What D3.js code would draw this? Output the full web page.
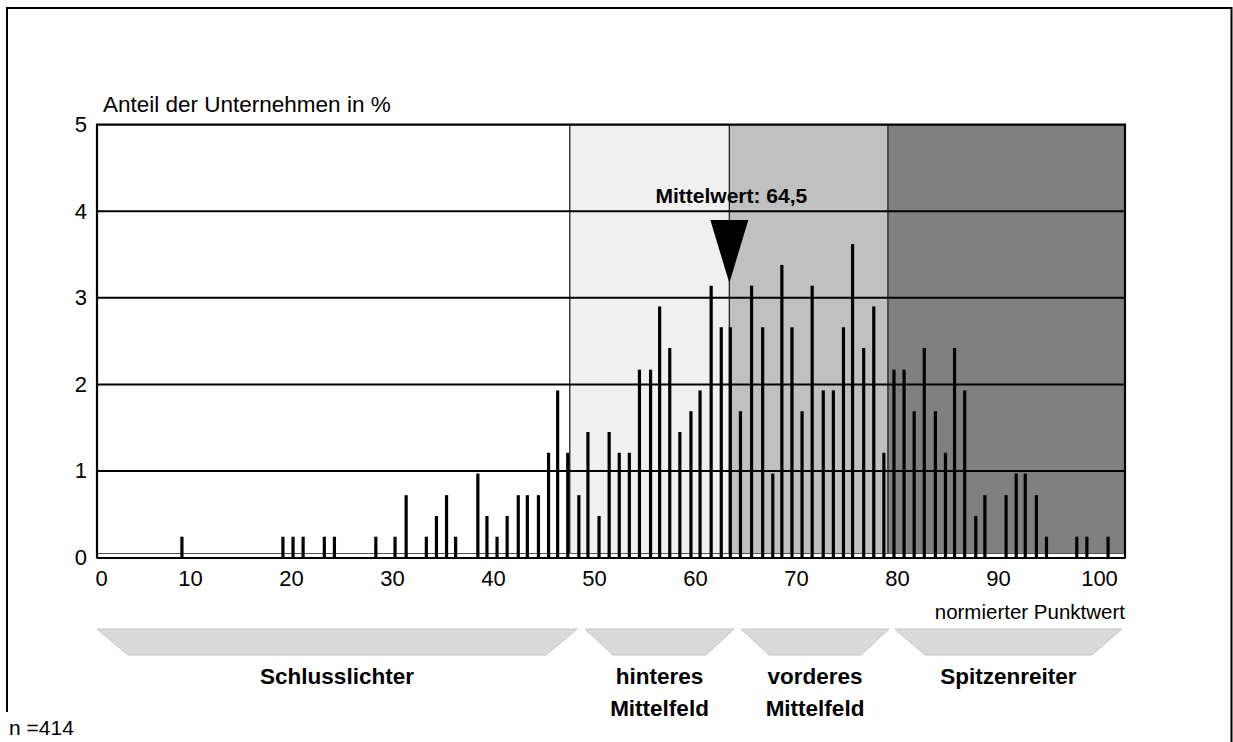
<!DOCTYPE html>
<html>
<head>
<meta charset="utf-8">
<script src="https://cdn.jsdelivr.net/npm/d3@7"></script>
<style>
  html, body { margin: 0; padding: 0; background: #fff; }
  svg { display: block; font-family: "Liberation Sans", Arial, Helvetica, sans-serif; }
</style>
</head>
<body>
<svg id="chart" width="1233" height="742"></svg>
<script>
// ---------------- data ----------------
// normierter Punktwert (score position of each bar)
const scores = [9.2, 19.2, 20.2, 21.2, 23.3, 24.3, 28.4, 30.3, 31.4, 33.4, 34.4, 35.4, 36.3,
  38.5, 39.4, 40.4, 41.4, 42.5, 43.4, 44.5, 45.5, 46.4, 47.4, 48.5, 49.4,
  50.5, 51.5, 52.5, 53.5, 54.5, 55.6, 56.5, 57.5, 58.5, 59.6, 60.5, 61.6, 62.6, 63.5, 64.5,
  65.6, 66.7, 67.7, 68.6, 69.6, 70.6, 71.6, 72.7, 73.7, 74.7, 75.6, 76.7, 77.7, 78.7, 79.7,
  80.7, 81.7, 82.7, 83.8, 84.8, 85.7, 86.7, 87.8, 88.7, 90.8, 91.8, 92.7, 93.8, 94.8,
  97.8, 98.8, 100.9];
// Anteil der Unternehmen in % (n = 414)
const shares = [0.24, 0.24, 0.24, 0.24, 0.24, 0.24, 0.24, 0.24, 0.72, 0.24, 0.48, 0.72, 0.24,
  0.97, 0.48, 0.24, 0.48, 0.72, 0.72, 0.72, 1.21, 1.93, 1.21, 0.72, 1.45,
  0.48, 1.45, 1.21, 1.21, 2.17, 2.17, 2.90, 2.42, 1.45, 1.69, 1.93, 3.14, 2.66, 2.66, 1.69,
  3.14, 2.66, 0.97, 3.38, 2.66, 1.69, 3.14, 1.93, 1.93, 2.66, 3.62, 2.42, 2.90, 1.21, 2.17,
  2.17, 1.69, 2.42, 1.69, 1.21, 2.42, 1.93, 0.48, 0.72, 0.72, 0.97, 0.97, 0.72, 0.24,
  0.24, 0.24, 0.24];
const xTicks = [0, 10, 20, 30, 40, 50, 60, 70, 80, 90, 100];
const yTicks = [0, 1, 2, 3, 4, 5];
const groupBreaks = [47.6, 63.4, 79.1];   // borders between the four groups
const groupNames = [["Schlusslichter"], ["hinteres", "Mittelfeld"], ["vorderes", "Mittelfeld"], ["Spitzenreiter"]];
const meanLabel = "Mittelwert: 64,5";
const nLabel = "n =414";
const yTitle = "Anteil der Unternehmen in %";
const xTitle = "normierter Punktwert";

// ---------------- layout ----------------
const svg = d3.select("#chart");
const plotL = 97, plotR = 1125, plotT = 124.7, plotB = 557.5;
const x = d3.scaleLinear().domain([0, 100]).range([89, 1099]);
const y = d3.scaleLinear().domain([0, 5]).range([plotB, plotT]);
const xMin = x.invert(plotL), xMax = x.invert(plotR);

// outer frame
svg.append("path")
  .attr("d", `M7,712 L7,8 L1231.5,8 L1231.5,742`)
  .attr("fill", "none").attr("stroke", "#000").attr("stroke-width", 2);

// group backgrounds
const edges = [xMin, ...groupBreaks, xMax];
const bgColors = ["#ffffff", "#f0f0f0", "#c0c0c0", "#808080"];
svg.append("g").selectAll("rect").data(d3.range(4)).join("rect")
  .attr("x", i => x(edges[i])).attr("width", i => x(edges[i + 1]) - x(edges[i]))
  .attr("y", plotT).attr("height", plotB - plotT)
  .attr("fill", i => bgColors[i]);
svg.append("g").selectAll("line").data(groupBreaks).join("line")
  .attr("x1", d => x(d)).attr("x2", d => x(d))
  .attr("y1", plotT).attr("y2", plotB)
  .attr("stroke", "#222").attr("stroke-width", 1.3);

// bottom strip (double base line)
svg.append("rect").attr("x", plotL).attr("width", plotR - plotL)
  .attr("y", plotB - 4).attr("height", 4).attr("fill", "#fff");
svg.append("line").attr("x1", plotL).attr("x2", plotR)
  .attr("y1", plotB - 4).attr("y2", plotB - 4).attr("stroke", "#555").attr("stroke-width", 1);

// gridlines
svg.append("g").selectAll("line").data(yTicks.filter(d => d > 0 && d < 5)).join("line")
  .attr("x1", plotL).attr("x2", plotR)
  .attr("y1", d => y(d)).attr("y2", d => y(d))
  .attr("stroke", "#000").attr("stroke-width", 2);

// bars
svg.append("g").selectAll("rect").data(scores).join("rect")
  .attr("x", (d) => x(d) - 1.6)
  .attr("width", 3.2)
  .attr("y", (d, i) => y(shares[i]))
  .attr("height", (d, i) => y(0) - y(shares[i]))
  .attr("fill", "#000");

// axis frame: top, right, left, bottom
svg.append("path")
  .attr("d", `M${plotL},${plotB + 1} L${plotL},${plotT} L${plotR},${plotT} L${plotR},${plotB + 1}`)
  .attr("fill", "none").attr("stroke", "#000").attr("stroke-width", 2.2);
svg.append("line").attr("x1", plotL).attr("x2", plotR)
  .attr("y1", plotB + 0.5).attr("y2", plotB + 0.5).attr("stroke", "#000").attr("stroke-width", 2);

// y axis labels
const yAxis = d3.axisLeft(y).tickValues(yTicks).tickSize(0).tickPadding(10).tickFormat(d3.format("d"));
const gy = svg.append("g").attr("transform", `translate(${plotL},0)`).call(yAxis);
gy.select(".domain").remove();
gy.selectAll("text").attr("font-size", 22).attr("font-family", "Liberation Sans, Arial, sans-serif").attr("fill", "#000");

// x axis labels
const xAxis = d3.axisBottom(x).tickValues(xTicks).tickSize(0).tickPadding(12).tickFormat(d3.format("d"));
const gx = svg.append("g").attr("transform", `translate(0,${plotB + 1})`).call(xAxis);
gx.select(".domain").remove();
gx.selectAll("text").attr("font-size", 22).attr("font-family", "Liberation Sans, Arial, sans-serif").attr("fill", "#000")
  .attr("dx", d => d === 0 ? 12 : 0);

// titles
svg.append("text").attr("x", 103).attr("y", 112).attr("font-size", 22.5).text(yTitle);
svg.append("text").attr("x", plotR).attr("y", 619).attr("font-size", 20.5).attr("text-anchor", "end").text(xTitle);

// mean arrow
const mx = x(groupBreaks[1]);
svg.append("path")
  .attr("d", `M${mx - 19},220 L${mx + 19},220 L${mx},283 Z`).attr("fill", "#000");
svg.append("text").attr("x", mx + 2).attr("y", 203).attr("font-size", 21).attr("font-weight", "bold")
  .attr("text-anchor", "middle").text(meanLabel);

// group brackets (trapezoids)
const traps = [[97, 577, 31], [585, 734, 28], [741, 889, 28], [895, 1122, 30]];
svg.append("g").selectAll("path").data(traps).join("path")
  .attr("d", t => `M${t[0]},629 L${t[1]},629 L${t[1] - t[2]},655 L${t[0] + t[2]},655 Z`)
  .attr("fill", "#d9d9d9").attr("stroke", "#c4c4c4").attr("stroke-width", 1);
const lbl = svg.append("g").selectAll("text").data(groupNames).join("text")
  .attr("x", (d, i) => (traps[i][0] + traps[i][1]) / 2)
  .attr("y", 684)
  .attr("font-size", 22.5).attr("font-weight", "bold").attr("text-anchor", "middle");
lbl.selectAll("tspan").data(d => d).join("tspan")
  .attr("x", function () { return this.parentNode.getAttribute("x"); })
  .attr("dy", (d, i) => i === 0 ? 0 : 32)
  .text(d => d);

// n label
svg.append("text").attr("x", 9).attr("y", 735).attr("font-size", 21).text(nLabel);
</script>
</body>
</html>
